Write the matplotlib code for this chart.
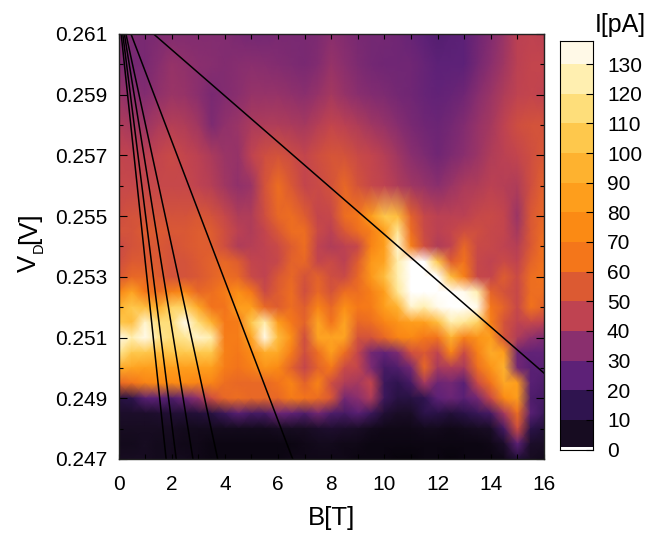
import numpy as np
from matplotlib import pyplot as plt
from matplotlib.colors import LinearSegmentedColormap, Normalize

plt.rcParams['font.family'] = ['Liberation Sans', 'DejaVu Sans']

# magnetic field [T] and drain voltage [V] of the map
field = np.arange(33) * 0.5
voltage = [0.261, 0.260, 0.259, 0.258, 0.257, 0.256, 0.255, 0.2545, 0.254, 0.2535, 0.253, 0.2525, 0.252,
           0.2515, 0.251, 0.2505, 0.250, 0.2495, 0.249, 0.2485, 0.248, 0.2475, 0.247]

# current [pA], one row per voltage
i_261 = [33,32,31,32,33,33,33,33,33,31,30,30,31,31,31,32,35,33,31,30,30,29,27,25,23,24,25,29,33,38,44,45,44]
i_260 = [33,30,31,34,37,36,35,34,33,34,35,34,33,32,31,33,37,35,32,30,29,29,29,27,25,25,25,30,35,39,44,46,46]
i_259 = [38,35,33,36,38,37,35,31,33,35,37,37,37,36,35,37,40,37,35,33,32,30,29,27,26,27,29,34,38,42,45,46,45]
i_258 = [42,40,38,41,43,42,39,32,36,38,41,42,42,41,40,43,46,44,42,39,37,34,31,29,28,30,33,37,40,45,50,52,52]
i_257 = [46,45,44,46,48,46,44,41,38,37,45,50,52,49,46,50,53,52,48,46,43,39,35,32,29,32,35,38,42,44,46,50,54]
i_256 = [47,47,47,47,47,47,45,43,39,36,38,52,62,54,46,48,52,60,52,47,45,42,39,37,35,38,41,42,44,43,42,50,58]
i_255 = [50,52,52,52,52,52,54,52,47,42,42,50,60,62,56,46,47,62,66,85,105,100,58,47,44,44,44,47,48,46,38,54,60]
i_2545 = [52,52,56,55,54,54,56,56,50,44,42,46,54,62,62,48,44,54,62,70,85,120,62,48,44,46,50,50,47,46,40,54,62]
i_254 = [48,52,54,54,52,54,56,56,50,42,43,45,48,56,62,45,42,44,47,72,85,130,70,50,42,45,60,48,47,45,43,54,64]
i_2535 = [50,55,55,55,52,52,55,58,60,56,46,45,47,58,60,46,48,44,56,82,88,125,138,140,105,56,64,47,45,48,45,58,64]
i_253 = [54,60,60,56,52,52,54,58,62,60,48,45,54,60,52,58,50,48,60,82,100,125,140,140,140,100,70,47,46,56,48,62,64]
i_2525 = [72,88,66,62,70,74,60,62,68,78,66,48,56,62,50,60,52,62,62,70,85,120,140,140,140,140,135,125,58,52,47,62,62]
i_252 = [95,105,100,92,110,110,90,64,64,85,85,60,56,62,56,72,60,78,66,68,85,95,130,125,135,140,140,135,66,58,47,64,58]
i_2515 = [105,100,130,115,115,135,115,95,66,68,105,125,85,66,58,88,64,88,60,62,72,80,85,85,100,125,120,110,70,52,45,47,45]
i_251 = [135,125,135,120,115,120,130,125,68,68,88,135,100,78,50,88,88,88,52,52,60,72,75,66,64,95,70,80,85,52,42,36,32]
i_2505 = [120,105,105,100,105,105,105,105,70,66,76,92,90,68,50,62,85,62,46,30,26,32,50,55,45,72,48,70,92,85,28,26,26]
i_250 = [92,88,85,85,85,85,85,85,68,64,70,80,75,58,46,58,66,48,46,32,20,22,30,60,40,42,40,62,80,95,30,24,24]
i_2495 = [60,64,72,75,75,75,72,72,62,60,60,60,64,72,58,72,50,42,40,46,18,15,20,40,28,30,24,48,64,90,85,24,22]
i_249 = [12,14,24,25,22,28,36,50,60,62,60,60,60,68,64,62,54,30,35,42,18,12,12,15,25,28,24,30,48,75,85,22,20]
i_2485 = [7,7,7,8,9,9,10,12,18,24,20,20,28,26,22,30,22,20,24,18,9,6,6,14,13,10,13,17,20,40,62,24,18]
i_248 = [5,5,5,5,5,4,4,4,4,4,4,4,5,5,5,7,8,7,6,4,3,3,3,4,4,3,4,5,6,20,50,14,10]
i_2475 = [4,4,5,4,4,3,3,2,2,2,2,2,2,2,3,4,4,3,3,2,2,2,2,2,2,2,2,2,3,7,25,7,6]
i_247 = [5,5,5,4,4,4,3,2,2,2,2,2,2,3,3,3,3,3,2,2,2,1,1,2,2,1,2,2,2,3,10,5,4]
current = np.array([i_261, i_260, i_259, i_258, i_257, i_256, i_255, i_2545, i_254, i_2535, i_253, i_2525, i_252,
                    i_2515, i_251, i_2505, i_250, i_2495, i_249, i_2485, i_248, i_2475, i_247])

# black lines: field at the top edge, field at the far end, voltage at the far end
line_b_top = [0.10, 0.16, 0.22, 0.28, 0.47, 1.32]
line_b_end = [1.79, 2.17, 2.80, 3.73, 6.55, 16.0]
line_v_end = [0.247, 0.247, 0.247, 0.247, 0.247, 0.24983]

# colour scale
cmap_values = [0, 5, 15, 25, 35, 45, 55, 65, 75, 85, 95, 105, 115, 125, 134, 138]
cmap_colors = ['#050208', '#180c22', '#2f1450', '#5e2178', '#8b2f6e', '#c04350', '#dc5a32', '#f4761a',
               '#fb8a14', '#fe9e1c', '#feb22f', '#fec84c', '#fede7a', '#ffefb0', '#fff9e6', '#ffffff']
band_edges = [1, 10, 20, 30, 40, 50, 60, 70, 80, 90, 100, 110, 120, 130, 137.8]
band_mid = [5, 15, 25, 35, 45, 55, 65, 75, 85, 95, 105, 115, 125, 134]
cbar_ticks = [0, 10, 20, 30, 40, 50, 60, 70, 80, 90, 100, 110, 120, 130]

W, H = 662, 533
fig = plt.figure(figsize=(W / 100, H / 100), dpi=100)
ax = fig.add_axes([118.5 / W, (H - 459) / H, 425.5 / W, 425 / H])
cax = fig.add_axes([560 / W, (H - 449.5) / H, 33 / W, 408.5 / H])

cmap = LinearSegmentedColormap.from_list('map', [(v / 138, c) for v, c in zip(cmap_values, cmap_colors)], N=512)
norm = Normalize(0, 138)

ax.pcolormesh(field, voltage, current, cmap=cmap, norm=norm, shading='gouraud', rasterized=True)
for b0, b1, v1 in zip(line_b_top, line_b_end, line_v_end):
    ax.plot([b0, b1], [0.261, v1], color='black', lw=1.1)

ax.set_xlim(0, 16)
ax.set_ylim(0.247, 0.261)
ax.set_xticks(np.arange(0, 17, 2))
ax.set_xticks(np.arange(1, 17, 2), minor=True)
ax.set_yticks(np.arange(0.247, 0.2611, 0.002))
ax.set_yticks(np.arange(0.248, 0.2611, 0.002), minor=True)
ax.set_yticklabels(['%.3f' % v for v in np.arange(0.247, 0.2611, 0.002)])
ax.tick_params(which='both', direction='in', top=True, right=True, labelsize=15, width=0.8)
ax.tick_params(axis='y', which='major', length=6, pad=8)
ax.tick_params(axis='y', which='minor', length=3)
ax.tick_params(axis='x', which='both', length=3.5, pad=11.5)
for tick in ax.xaxis.get_major_ticks() + ax.xaxis.get_minor_ticks():
    tick.tick1line.set_color('#cccccc')
ax.set_xlabel('B[T]', fontsize=18.5, labelpad=9)
for s in ax.spines.values():
    s.set_linewidth(1.0)
    s.set_color('#222222')

# y label in pieces, the subscript is much smaller than mathtext makes it
fig.text(29 / W, (H - 263.5) / H, 'V', fontsize=18.5, rotation=90, ha='center', va='center')
fig.text(39 / W, (H - 248) / H, 'D', fontsize=10.5, rotation=90, ha='center', va='center')
fig.text(29 / W, (H - 228) / H, '[V]', fontsize=18.5, rotation=90, ha='center', va='center')

cax.pcolormesh([0, 1], band_edges, np.array(band_mid)[:, None], cmap=cmap, norm=norm)
cax.set_ylim(0, 137.8)
cax.set_xticks([])
cax.yaxis.tick_right()
cax.set_yticks(cbar_ticks)
cax.tick_params(axis='y', direction='in', length=5, width=0.8, labelsize=15, pad=10)
cax.set_facecolor('white')
fig.text(620 / W, (H - 25) / H, 'I[pA]', fontsize=18, ha='center', va='center')

fig.savefig('out.png', dpi=100)
